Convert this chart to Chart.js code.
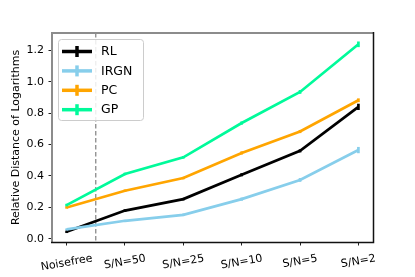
<!DOCTYPE html>
<html><head><meta charset="utf-8">
<script src="https://cdn.jsdelivr.net/npm/chart.js@4"></script>
<style>html,body{margin:0;padding:0;background:#fff}#wrap{width:415px;height:277px;position:relative}</style>
</head><body><div id="wrap"><canvas id="c"></canvas></div>
<script>
const categories = ['Noisefree', 'S/N=50', 'S/N=25', 'S/N=10', 'S/N=5', 'S/N=2'];
const seriesNames = ['RL', 'IRGN', 'PC', 'GP'];
const rlValues   = [0.045, 0.180, 0.253, 0.408, 0.560, 0.840];
const irgnValues = [0.060, 0.115, 0.153, 0.253, 0.375, 0.565];
const pcValues   = [0.200, 0.306, 0.387, 0.547, 0.683, 0.882];
const gpValues   = [0.215, 0.413, 0.519, 0.737, 0.935, 1.238];
const rlErr   = [0.008, 0.008, 0.008, 0.010, 0.010, 0.020];
const irgnErr = [0.006, 0.006, 0.008, 0.010, 0.012, 0.020];
const pcErr   = [0.008, 0.008, 0.008, 0.010, 0.010, 0.012];
const gpErr   = [0.008, 0.008, 0.008, 0.010, 0.012, 0.018];
const yTicks = [0.0, 0.2, 0.4, 0.6, 0.8, 1.0, 1.2];
const dividerAt = 0.5;
const yTitle = 'Relative Distance of Logarithms';

const colors = ['#000000', '#87CEEB', '#FFA500', '#00FA9A'];
const FONT = 'DejaVu Sans';

function mk(values, errs, i) {
  return {
    label: seriesNames[i],
    data: values.map((v, k) => ({ x: k, y: v })),
    errors: errs,
    borderColor: colors[i],
    backgroundColor: colors[i],
    borderWidth: 2.7,
    pointRadius: 0,
    tension: 0,
    fill: false,
    order: 4 - i
  };
}

const helper = {
  id: 'helper',
  beforeDatasetsDraw(chart) {
    const { ctx, chartArea: a, scales: { x } } = chart;
    const px = x.getPixelForValue(dividerAt);
    ctx.save();
    ctx.strokeStyle = '#808080';
    ctx.lineWidth = 1.2;
    ctx.setLineDash([4.5, 2.5]);
    ctx.beginPath(); ctx.moveTo(px, a.top); ctx.lineTo(px, a.bottom); ctx.stroke();
    ctx.restore();
  },
  afterDatasetDraw(chart, args) {
    const ds = chart.data.datasets[args.index];
    const { ctx, scales: { x, y } } = chart;
    ctx.save();
    ctx.strokeStyle = ds.borderColor;
    ctx.lineWidth = 2.7;
    ds.data.forEach((p, k) => {
      const e = ds.errors[k];
      const px = x.getPixelForValue(p.x);
      ctx.beginPath();
      ctx.moveTo(px, y.getPixelForValue(p.y - e));
      ctx.lineTo(px, y.getPixelForValue(p.y + e));
      ctx.stroke();
    });
    ctx.restore();
  },
  afterDatasetsDraw(chart) {
    const { ctx, chartArea: a } = chart;
    ctx.save();
    ctx.strokeStyle = '#8c8c8c';
    ctx.lineWidth = 2;
    ctx.beginPath(); ctx.moveTo(a.left, a.bottom); ctx.lineTo(a.left, a.top); ctx.lineTo(a.right + 1, a.top); ctx.stroke();
    ctx.strokeStyle = '#111';
    ctx.lineWidth = 1.5;
    ctx.beginPath(); ctx.moveTo(a.left - 1, a.bottom + 0.5); ctx.lineTo(a.right + 0.5, a.bottom + 0.5); ctx.lineTo(a.right + 0.5, a.top - 1); ctx.stroke();
    ctx.restore();
  },
  afterDraw(chart) {
    const { ctx, chartArea: a, scales: { x } } = chart;
    ctx.save();
    ctx.font = '11px "' + FONT + '"';
    ctx.fillStyle = '#000';
    ctx.textAlign = 'center';
    ctx.textBaseline = 'middle';
    const th = 10 * Math.PI / 180;
    x.ticks.forEach(t => {
      const label = categories[t.value];
      if (label === undefined) return;
      const w = ctx.measureText(label).width;
      const h = w * Math.sin(th) + 10 * Math.cos(th);
      const px = x.getPixelForValue(t.value);
      ctx.save();
      ctx.translate(px, a.bottom + 11.5 + h / 2);
      ctx.rotate(-th);
      ctx.fillText(label, 0, 0);
      ctx.restore();
    });
    ctx.restore();

    const lx = a.left + 6, ly = a.top + 6, lw = 85, lh = 81;
    ctx.save();
    ctx.fillStyle = 'rgba(255,255,255,0.85)';
    ctx.strokeStyle = '#cccccc';
    ctx.lineWidth = 1;
    ctx.beginPath();
    ctx.roundRect(lx + 0.5, ly + 0.5, lw, lh, 3);
    ctx.fill(); ctx.stroke();
    ctx.font = '12.5px "' + FONT + '"';
    ctx.textAlign = 'left';
    ctx.textBaseline = 'middle';
    chart.data.datasets.forEach((ds, i) => {
      const cy = ly + 12.5 + i * 19.4;
      ctx.strokeStyle = ds.borderColor;
      ctx.lineWidth = 3.5;
      ctx.beginPath(); ctx.moveTo(lx + 4, cy); ctx.lineTo(lx + 34, cy); ctx.stroke();
      ctx.beginPath(); ctx.moveTo(lx + 19, cy - 5.5); ctx.lineTo(lx + 19, cy + 5.5); ctx.stroke();
      ctx.fillStyle = '#000';
      ctx.fillText(ds.label, lx + 43, cy + 0.5);
    });
    ctx.restore();
  }
};

new Chart(document.getElementById('c'), {
  type: 'line',
  data: {
    datasets: [
      mk(rlValues, rlErr, 0),
      mk(irgnValues, irgnErr, 1),
      mk(pcValues, pcErr, 2),
      mk(gpValues, gpErr, 3)
    ]
  },
  options: {
    responsive: true,
    maintainAspectRatio: false,
    devicePixelRatio: 1,
    animation: false,
    layout: { padding: { left: 0, top: 33, right: 42, bottom: 0 } },
    plugins: { legend: { display: false }, tooltip: { enabled: false } },
    scales: {
      x: {
        type: 'linear',
        min: -0.25, max: 5.25,
        afterBuildTicks: s => { s.ticks = categories.map((c, i) => ({ value: i })); },
        afterFit: s => { s.height = 35; },
        ticks: { display: false },
        grid: { color: 'rgba(0,0,0,0)', drawOnChartArea: false, drawTicks: true, tickLength: 3.5, tickColor: '#222', tickWidth: 1 },
        border: { display: false }
      },
      y: {
        type: 'linear',
        min: -0.02, max: 1.31,
        afterBuildTicks: s => { s.ticks = yTicks.map(v => ({ value: v })); },
        afterFit: s => { s.width = 52; },
        ticks: { font: { family: FONT, size: 11 }, color: '#000', padding: 4.5, callback: v => Number(v).toFixed(1) },
        grid: { color: 'rgba(0,0,0,0)', drawOnChartArea: false, drawTicks: true, tickLength: 3.5, tickColor: '#222', tickWidth: 1 },
        border: { display: false },
        title: { display: true, text: yTitle, font: { family: FONT, size: 11 }, color: '#000', padding: { top: 10, bottom: 0 } }
      }
    }
  },
  plugins: [helper]
});
</script></body></html>
